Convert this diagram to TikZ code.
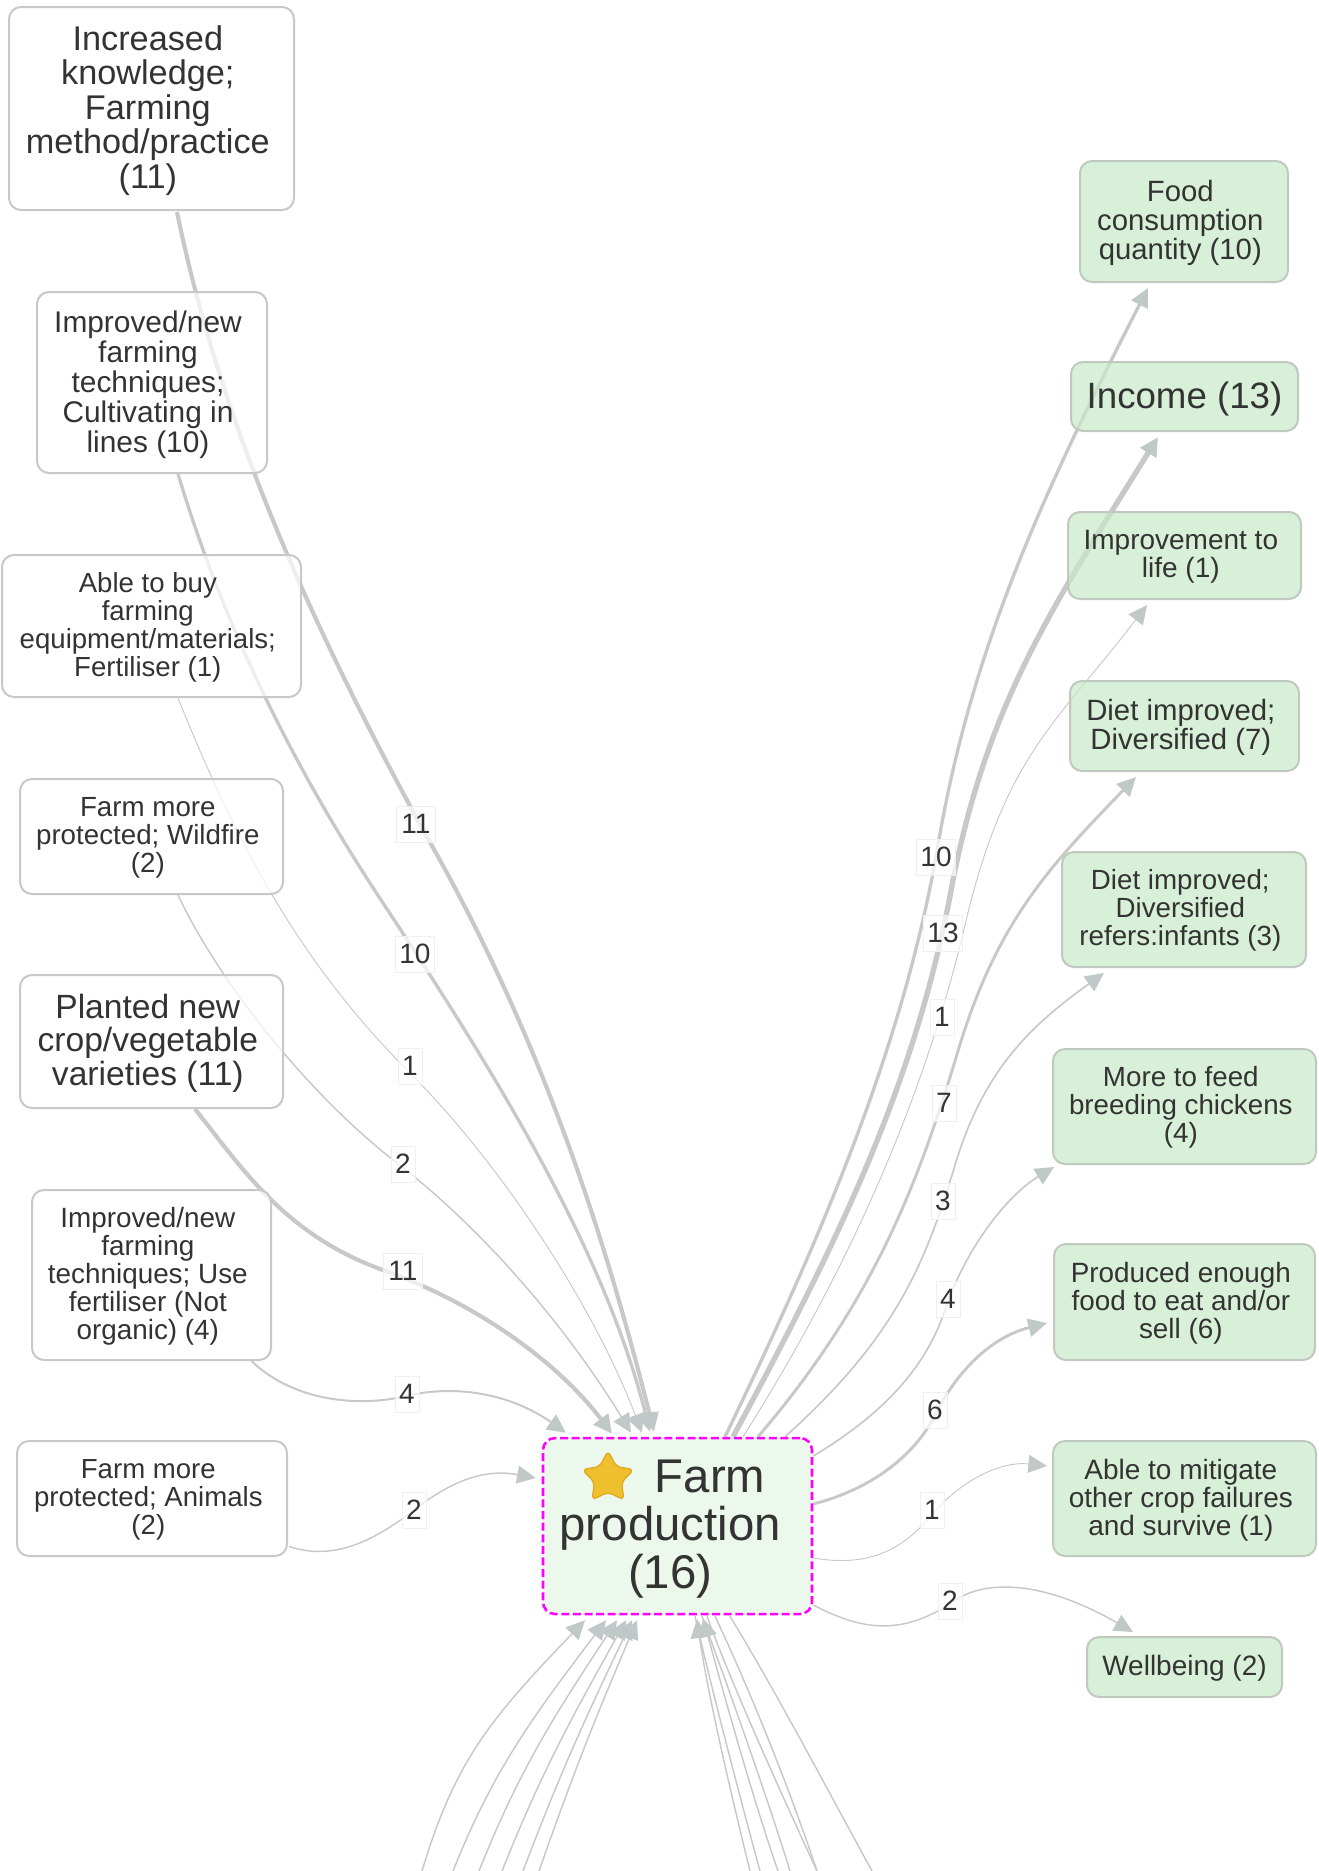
\documentclass[tikz,border=0pt]{standalone}
\usepackage{fontspec}
\usepackage{array}
\setmainfont{Liberation Sans}
\usetikzlibrary{calc,arrows.meta,shapes.geometric}
\definecolor{txt}{HTML}{333333}
\definecolor{bordg}{HTML}{C8C8C8}
\definecolor{bordgreen}{HTML}{BFC9BF}
\definecolor{greenf}{HTML}{C7E8C7}
\definecolor{centerf}{HTML}{EBF8EB}
\definecolor{edgec}{HTML}{C8C8C8}
\definecolor{tipc}{HTML}{C0C8C8}
\definecolor{labb}{HTML}{F0F0F0}
\definecolor{StarGold}{HTML}{EFC02E}
\definecolor{StarEdge}{HTML}{E2A922}
\definecolor{pink}{HTML}{FF00FF}
\pgfdeclarelayer{edges}
\pgfsetlayers{edges,main}
\newcolumntype{C}{>{\setbox0=\hbox\bgroup}c<{\egroup\ht0=0pt \dp0=0pt \box0}}
\tikzset{
  box/.style={draw=bordg,line width=1.5pt,fill=white,fill opacity=.7,text opacity=1,draw opacity=1,rounded corners=9pt,inner sep=0pt,text=txt},
  gbox/.style={box,draw=bordgreen,fill=greenf},
  cbox/.style={box,draw=pink,fill=centerf,fill opacity=1,line width=1.9pt,dash pattern=on 6pt off 2.7pt},
  lab/.style={draw=labb,line width=.75pt,fill=white,fill opacity=.7,text opacity=1,text=txt,inner sep=0pt,minimum height=27pt,font=\fontsize{21}{21}\selectfont},
  lab1/.style={lab,minimum width=18pt},
  lab2/.style={lab,minimum width=29pt},
  ed/.style={draw=edgec,line join=round},
  tipped/.style={ed,-{Triangle[length=14pt,width=13.5pt,color=tipc]}},
  w1/.style={line width=.7pt},
  w2/.style={line width=1.1pt},
  w3/.style={line width=1.25pt},
  w4/.style={line width=1.5pt},
  w6/.style={line width=2.2pt},
  w10/.style={line width=2.5pt},
  w11/.style={line width=3.1pt},
  w13/.style={line width=4pt},
}
\newcommand\bxR{-.35em}
\newcommand\bx[2]{\bxa{#1}#2}
\newcommand\bxa[6]{\def\bxn{#1}\def\bxA{#2}\def\bxB{#3}\def\bxC{#4}\def\bxD{#5}\def\bxE{#6}\bxb}
\newcommand\bxb[4]{%
  \node[#3,minimum width={(\bxC-\bxA)*0.75pt},minimum height={(\bxD-\bxB)*0.75pt}] (\bxn) at ({(\bxA+\bxC)/2},{(\bxB+\bxD)/2})
  {\fontsize{#1}{#2}\selectfont\hspace*{\bxE pt}\smash{\raisebox{\bxR}{\begin{tabular}{@{}C@{}}#4\end{tabular}}}};}
\begin{document}
\begin{tikzpicture}[x=0.75pt,y=-0.75pt]
\useasboundingbox (0,0) rectangle (1319,1871);
% source nodes
\bx{n1}{{9}{7}{294}{210}{-5.5}}{25.7}{25.9}{box}{Increased\\knowledge;\\Farming\\method/practice\\(11)}
\bx{n2}{{37}{292}{267}{473}{-6}}{22.4}{22.5}{box}{Improved/new\\farming\\techniques;\\Cultivating in\\lines (10)}
\bx{n3}{{2}{555}{301}{697}{-5.5}}{20.7}{21}{box}{Able to buy\\farming\\equipment/materials;\\Fertiliser (1)}
\bx{n4}{{20}{779}{283}{894}{-5.5}}{20.8}{21}{box}{Farm more\\protected; Wildfire\\(2)}
\bx{n5}{{20}{975}{283}{1108}{-5.5}}{25.2}{25.1}{box}{Planted new\\crop/vegetable\\varieties (11)}
\bx{n6}{{32}{1190}{271}{1360}{-5.5}}{20.9}{21}{box}{Improved/new\\farming\\techniques; Use\\fertiliser (Not\\organic) (4)}
\bx{n7}{{17}{1441}{287}{1556}{-5.5}}{20.7}{21}{box}{Farm more\\protected; Animals\\(2)}
% target nodes
\bx{t1}{{1080}{161}{1288}{282}{-5.5}}{22}{21.7}{gbox}{Food\\consumption\\quantity (10)}
\bx{t2}{{1071}{362}{1298}{431}{0}}{27.5}{27}{gbox}{Income (13)}
\bx{t3}{{1068}{512}{1301}{599}{-5.5}}{21}{21}{gbox}{Improvement to\\life (1)}
\bx{t4}{{1070}{681}{1299}{771}{-5.5}}{22}{22}{gbox}{Diet improved;\\Diversified (7)}
\bx{t5}{{1062}{852}{1306}{967}{-5.5}}{20.8}{21}{gbox}{Diet improved;\\Diversified\\refers:infants (3)}
\bx{t6}{{1053}{1049}{1316}{1164}{-5.5}}{20.8}{21}{gbox}{More to feed\\breeding chickens\\(4)}
\bx{t7}{{1054}{1244}{1315}{1360}{-5.5}}{20.9}{21}{gbox}{Produced enough\\food to eat and/or\\sell (6)}
\bx{t8}{{1053}{1441}{1316}{1556}{-5.5}}{21}{21}{gbox}{Able to mitigate\\other crop failures\\and survive (1)}
\bx{t9}{{1087}{1637}{1282}{1697}{0}}{21}{21}{gbox}{Wellbeing (2)}
% centre
\renewcommand\bxR{-.27em}
\bx{c}{{543}{1438}{812}{1614}{-11}}{35.5}{36}{cbox}{\hspace*{60pt}Farm\\production\\(16)}
\node[star,star points=5,star point ratio=1.95,minimum size=41pt,inner sep=0pt,fill=StarGold,draw=StarEdge,line width=1pt,rounded corners=4pt] (starmark) at (608,1478) {};
% edge labels
\node[lab2] (l1) at (416,824) {11};
\node[lab2] (l2) at (415,954) {10};
\node[lab1] (l3) at (410,1066) {1};
\node[lab1] (l4) at (403,1164) {2};
\node[lab2] (l5) at (403,1271) {11};
\node[lab1] (l6) at (407,1394) {4};
\node[lab1] (l7) at (414,1510) {2};
\node[lab2] (r1) at (936,857) {10};
\node[lab2] (r2) at (943,933) {13};
\node[lab1] (r3) at (942,1017) {1};
\node[lab1] (r4) at (944,1103) {7};
\node[lab1] (r5) at (943,1201) {3};
\node[lab1] (r6) at (948,1299) {4};
\node[lab1] (r7) at (935,1410) {6};
\node[lab1] (r8) at (932,1510) {1};
\node[lab1] (r9) at (950,1601) {2};
% free ends at the lower edge
\coordinate (b1) at (422,1871);
\coordinate (b2) at (453,1871);
\coordinate (b3) at (479,1871);
\coordinate (b4) at (502,1871);
\coordinate (b5) at (523,1871);
\coordinate (b6) at (539,1871);
\coordinate (o1) at (872,1871);
\coordinate (o2) at (817,1871);
\coordinate (o3) at (817,1871);
\coordinate (o4) at (790,1871);
\coordinate (o5) at (760,1871);
\coordinate (h1) at (750,1871);
\coordinate (h2) at (778,1871);
\begin{pgfonlayer}{edges}
% into the centre from the left
\draw[tipped,w11] ($(n1.south)+(25.5,1)$) .. controls (222,431) and (317,637) .. (427,837) .. controls (541,1037) and (604,1233) .. ($(c.north)+(-23.5,-5)$);
\draw[tipped,w10] ($(n2.south)+(26,0)$) .. controls (226,633) and (297,773) .. (383,903) .. controls (502,1083) and (605,1253) .. ($(c.north)+(-27.5,-5)$);
\draw[tipped,w1] ($(n3.south)+(26.5,0)$) .. controls (238,847) and (300,963) .. (410,1073) .. controls (500,1163) and (593,1304) .. ($(c.north)+(-35.5,-4)$);
\draw[tipped,w2] ($(n4.south)+(26.5,0)$) .. controls (220,984) and (310,1096) .. (397,1163) .. controls (488,1233) and (571,1334) .. ($(c.north)+(-46.5,-4)$);
\draw[tipped,w11] ($(n5.south)+(43.5,0)$) .. controls (242,1168) and (285,1235) .. (383,1270) .. controls (481,1305) and (560,1365) .. ($(c.north)+(-65.5,-3)$);
\draw[tipped,w4] ($(n6.south)+(100,0)$) .. controls (292,1400) and (356,1408) .. (406,1396) .. controls (456,1384) and (511,1394) .. ($(c.north)+(-111.5,-4)$);
\draw[tipped,w2] ($(n7.east)+(1,48)$) .. controls (330,1560) and (369,1545) .. (414,1510) .. controls (449,1483) and (482,1468) .. ($(c.west)+(-6,-48)$);
% out of the centre to the right
\draw[tipped,w10] ($(c.north)+(47.5,0)$) .. controls (821,1238) and (904,1045) .. (938,845) .. controls (972,645) and (1046,487) .. ($(t1.south)+(-36,5)$);
\draw[tipped,w13] ($(c.north)+(55.5,0)$) .. controls (840,1238) and (917,1080) .. (953,880) .. controls (989,700) and (1053,606) .. ($(t2.south)+(-26.5,5)$);
\draw[tipped,w1] ($(c.north)+(65.5,0)$) .. controls (850,1268) and (925,1095) .. (965,925) .. controls (1005,755) and (1056,724) .. ($(t3.south)+(-37.5,5)$);
\draw[tipped,w6] ($(c.north)+(80.5,0)$) .. controls (875,1300) and (919,1181) .. (958,1051) .. controls (997,921) and (1050,866) .. ($(t4.south)+(-48.5,5)$);
\draw[tipped,w3] ($(c.north)+(107.5,0)$) .. controls (895,1338) and (925,1265) .. (955,1165) .. controls (985,1065) and (1036,1022) .. ($(t5.south)+(-80,5)$);
\draw[tipped,w3] ($(c.east)+(0,-70)$) .. controls (880,1416) and (925,1370) .. (945,1310) .. controls (965,1250) and (1006,1196) .. ($(t6.south)+(-130.5,2)$);
\draw[tipped,w6] ($(c.east)+(0,-22)$) .. controls (872,1489) and (915,1455) .. (935,1415) .. controls (955,1375) and (988,1338) .. ($(t7.west)+(-6,21)$);
\draw[tipped,w1] ($(c.east)+(0,32)$) .. controls (872,1568) and (904,1547) .. (930,1517) .. controls (962,1478) and (1003,1461) .. ($(t8.west)+(-5,-32.5)$);
\draw[tipped,w2] ($(c.east)+(0,79)$) .. controls (865,1632) and (902,1634) .. (950,1604) .. controls (982,1578) and (1043,1580) .. ($(t9.north)+(-51.5,-4)$);
% from below into the centre
\draw[tipped,w2] (b1) .. controls (455,1761) and (490,1719) .. ($(c.south)+(-92.5,5)$);
\draw[tipped,w2] (b2) .. controls (493,1771) and (531,1719) .. ($(c.south)+(-71.5,5)$);
\draw[tipped,w2] (b3) .. controls (519,1771) and (552,1719) .. ($(c.south)+(-60.5,5)$);
\draw[tipped,w2] (b4) .. controls (542,1771) and (571,1719) .. ($(c.south)+(-51.5,5)$);
\draw[tipped,w2] (b5) .. controls (561,1771) and (585,1719) .. ($(c.south)+(-45.5,5)$);
\draw[tipped,w2] (b6) .. controls (574,1771) and (595,1719) .. ($(c.south)+(-40.5,5)$);
\draw[tipped,w2] (h1) .. controls (730,1790) and (707,1690) .. ($(c.south)+(19.5,4)$);
\draw[tipped,w2] (h2) .. controls (750,1790) and (720,1680) .. ($(c.south)+(25.5,3)$);
% out of the centre towards the lower edge
\draw[ed,w2] ($(c.south)+(52.5,1)$) .. controls (775,1690) and (825,1785) .. (o1);
\draw[ed,w2] ($(c.south)+(37.5,1)$) .. controls (750,1690) and (790,1790) .. (o2);
\draw[ed,w2] ($(c.south)+(29.5,1)$) .. controls (730,1680) and (775,1780) .. (o3);
\draw[ed,w2] ($(c.south)+(24.5,1)$) .. controls (722,1670) and (765,1790) .. (o4);
\draw[ed,w2] ($(c.south)+(17.5,1)$) .. controls (712,1690) and (738,1790) .. (o5);
\end{pgfonlayer}
\end{tikzpicture}
\end{document}
